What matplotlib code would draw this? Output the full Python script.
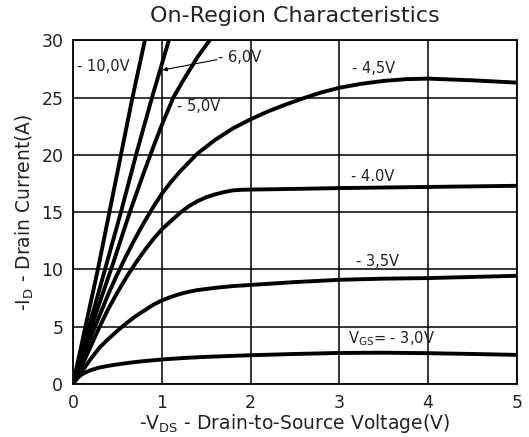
import matplotlib
matplotlib.use("Agg")
import matplotlib.pyplot as plt

# ---- data ----
v_10 = [0, 0.14, 0.28, 0.41, 0.54, 0.67, 0.81]
i_10 = [0, 5, 10, 15, 20, 25, 30]

v_6 = [0, 0.18, 0.36, 0.54, 0.71, 0.89, 1.08]
i_6 = [0, 5, 10, 15, 20, 25, 30]

v_5 = [0, 0.22, 0.45, 0.64, 0.8, 0.93, 1.0, 1.13, 1.25, 1.4, 1.54]
i_5 = [0, 5.3, 10.5, 15.0, 18.5, 21.2, 22.6, 25.0, 26.6, 28.5, 30.0]

v_45 = [0, 0.1, 0.2, 0.3, 0.4, 0.5, 0.6, 0.7, 0.8, 0.9, 1.0, 1.1, 1.2, 1.3, 1.4,
        1.6, 1.8, 2.0, 2.2, 2.4, 2.6, 2.8, 3.0, 3.25, 3.5, 3.75, 4.0, 4.5, 5.0]
i_45 = [0, 2.1, 4.1, 6.0, 7.9, 9.6, 11.2, 12.7, 14.1, 15.4, 16.6, 17.6, 18.5, 19.3, 20.1,
        21.3, 22.3, 23.1, 23.8, 24.4, 24.95, 25.45, 25.85, 26.2, 26.45, 26.6, 26.65, 26.5, 26.3]

v_40 = [0, 0.1, 0.2, 0.3, 0.4, 0.5, 0.6, 0.7, 0.8, 0.9, 1.0, 1.1, 1.2, 1.3, 1.4,
        1.5, 1.6, 1.7, 1.8, 1.9, 2.0, 2.5, 3.0, 4.0, 5.0]
i_40 = [0, 1.6, 3.3, 5.0, 6.6, 8.0, 9.3, 10.5, 11.6, 12.6, 13.5, 14.2, 14.9, 15.5, 15.95,
        16.3, 16.55, 16.75, 16.9, 16.95, 16.97, 17.03, 17.1, 17.2, 17.3]

v_35 = [0, 0.1, 0.2, 0.3, 0.4, 0.5, 0.6, 0.7, 0.8, 0.9, 1.0, 1.1, 1.2, 1.3, 1.4,
        1.6, 1.8, 2.0, 2.5, 3.0, 3.5, 4.0, 4.5, 5.0]
i_35 = [0, 1.1, 2.2, 3.2, 3.95, 4.65, 5.3, 5.9, 6.4, 6.9, 7.3, 7.6, 7.85, 8.05, 8.2,
        8.4, 8.55, 8.65, 8.9, 9.1, 9.2, 9.25, 9.35, 9.45]

v_30 = [0, 0.03, 0.06, 0.1, 0.15, 0.2, 0.3, 0.4, 0.5, 0.6, 0.75, 1.0, 1.25, 1.5,
        2.0, 2.5, 3.0, 3.5, 4.0, 4.5, 5.0]
i_30 = [0, 0.35, 0.6, 0.85, 1.05, 1.22, 1.45, 1.6, 1.72, 1.83, 1.97, 2.15, 2.28, 2.38,
        2.52, 2.63, 2.72, 2.74, 2.7, 2.63, 2.55]

x_ticks = [0, 1, 2, 3, 4, 5]
y_ticks = [0, 5, 10, 15, 20, 25, 30]

labels = ["- 10,0V", "- 6,0V", "- 5,0V", "- 4,5V", "- 4.0V", "- 3,5V", "V$_{GS}$= - 3,0V"]
label_pos = [(0.04, 27.7), (1.63, 28.5), (1.17, 24.2), (3.14, 27.5), (3.13, 18.1), (3.19, 10.7), (3.10, 4.0)]

plt.rcParams['font.family'] = ['DejaVu Sans']
plt.rcParams['mathtext.default'] = 'regular'

fig = plt.figure(figsize=(5.29, 4.37), dpi=100)
ax = fig.add_axes([0.138, 0.121, 0.839, 0.787])

for v, i in [(v_10, i_10), (v_6, i_6), (v_5, i_5), (v_45, i_45),
             (v_40, i_40), (v_35, i_35), (v_30, i_30)]:
    ax.plot(v, i, color='black', lw=2.8, solid_capstyle='round',
            solid_joinstyle='round', zorder=3, clip_on=True)

ax.set_xlim(0, 5)
ax.set_ylim(0, 30)
ax.set_xticks(x_ticks)
ax.set_yticks(y_ticks)
ax.grid(True, color='black', lw=1.1)
ax.tick_params(length=0, labelsize=12.5, pad=7, colors='#222222')
for s in ax.spines.values():
    s.set_linewidth(1.3)

for txt, (x, y) in zip(labels, label_pos):
    ax.text(x, y, txt, fontsize=10.5, ha='left', va='center', color='#222222', zorder=4)

ax.annotate("", xy=(1.01, 27.4), xytext=(1.62, 28.3),
            arrowprops=dict(arrowstyle='-|>', color='black', lw=0.8,
                            mutation_scale=6, shrinkA=0, shrinkB=0))

ax.set_title("On-Region Characteristics", fontsize=16, pad=13, color='#222222')
ax.set_xlabel("-V$_{DS}$ - Drain-to-Source Voltage(V)", fontsize=13.5, labelpad=0, color='#222222')
ax.set_ylabel("-I$_{D}$ - Drain Current(A)", fontsize=13.5, labelpad=4, color='#222222')

fig.savefig("out.png", dpi=100)
